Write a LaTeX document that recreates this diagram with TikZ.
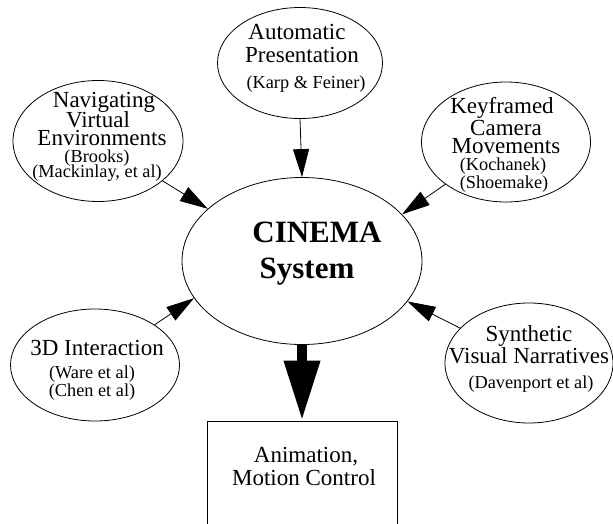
\documentclass[tikz,border=0pt]{standalone}
\usepackage{fontspec}
\setmainfont{Liberation Serif}
\usetikzlibrary{arrows.meta,shapes.geometric}
\begin{document}
\begin{tikzpicture}[x=1pt,y=-1pt,
  oval/.style={draw=black, line width=0.8pt, ellipse, inner sep=0pt},
  big/.style={anchor=base, inner sep=0pt, font=\fontsize{23}{23}\selectfont},
  small/.style={anchor=base, inner sep=0pt, font=\fontsize{18.3}{18}\selectfont},
  bold/.style={anchor=base, inner sep=0pt, font=\fontsize{31}{31}\selectfont\bfseries},
  conn/.style={draw=black, line width=0.8pt, -{Triangle[length=28pt,width=16pt]}},
  bigconn/.style={draw=black, line width=10pt, -{Triangle[length=60pt,width=34pt]}}
]
\useasboundingbox (0,0) rectangle (613,523);
\clip (0,0) rectangle (613,523);
\fill[white] (0,0) rectangle (613,523);

% ellipses
\node[oval, minimum width=165pt, minimum height=111pt] (auto) at (300,63) {};
\node[oval, minimum width=170pt, minimum height=121pt] (nav) at (98,141) {};
\node[oval, minimum width=169pt, minimum height=120pt] (keyf) at (506,142) {};
\node[oval, minimum width=240pt, minimum height=167pt] (cinema) at (302,261) {};
\node[oval, minimum width=169pt, minimum height=112pt] (threed) at (95,365) {};
\node[oval, minimum width=168pt, minimum height=120pt] (synth) at (529,363) {};
\node[draw=black, line width=0.8pt, minimum width=190pt, minimum height=140pt, inner sep=0pt] (box) at (302,491) {};

% texts
\node[big] (a1) at (297,39) {Automatic};
\node[big] (a2) at (302,62) {Presentation};
\node[small] (a3) at (306,88) {(Karp \& Feiner)};

\node[big] (n1) at (104,107) {Navigating};
\node[big] (n2) at (98,127) {Virtual};
\node[big] (n3) at (102,145) {Environments};
\node[small] (n4) at (97,162) {(Brooks)};
\node[small] (n5) at (97,177) {(Mackinlay, et al)};

\node[big] (k1) at (502,113) {Keyframed};
\node[big] (k2) at (506,135) {Camera};
\node[big] (k3) at (506,153) {Movements};
\node[small] (k4) at (503,170) {(Kochanek)};
\node[small] (k5) at (504,188) {(Shoemake)};

\node[bold] (c1) at (317,242) {CINEMA};
\node[bold] (c2) at (307,278) {System};

\node[big] (t1) at (97,355) {3D Interaction};
\node[small] (t2) at (92,378) {(Ware et al)};
\node[small] (t3) at (92,396) {(Chen et al)};

\node[big] (s1) at (529,341) {Synthetic};
\node[big] (s2) at (529,363) {Visual Narratives};
\node[small] (s3) at (531,388) {(Davenport et al)};

\node[big] (b1) at (306,462) {Animation,};
\node[big] (b2) at (304,485) {Motion Control};

% connectors
\draw[conn] (auto.south) -- (cinema.north);
\draw[conn] (nav) -- (cinema.151);
\draw[conn] (keyf) -- (cinema.25);
\draw[conn] (threed) -- (cinema.199);
\draw[conn] (synth) -- (cinema.339);
\draw[bigconn] (cinema.south) -- (box.north);
\end{tikzpicture}
\end{document}
